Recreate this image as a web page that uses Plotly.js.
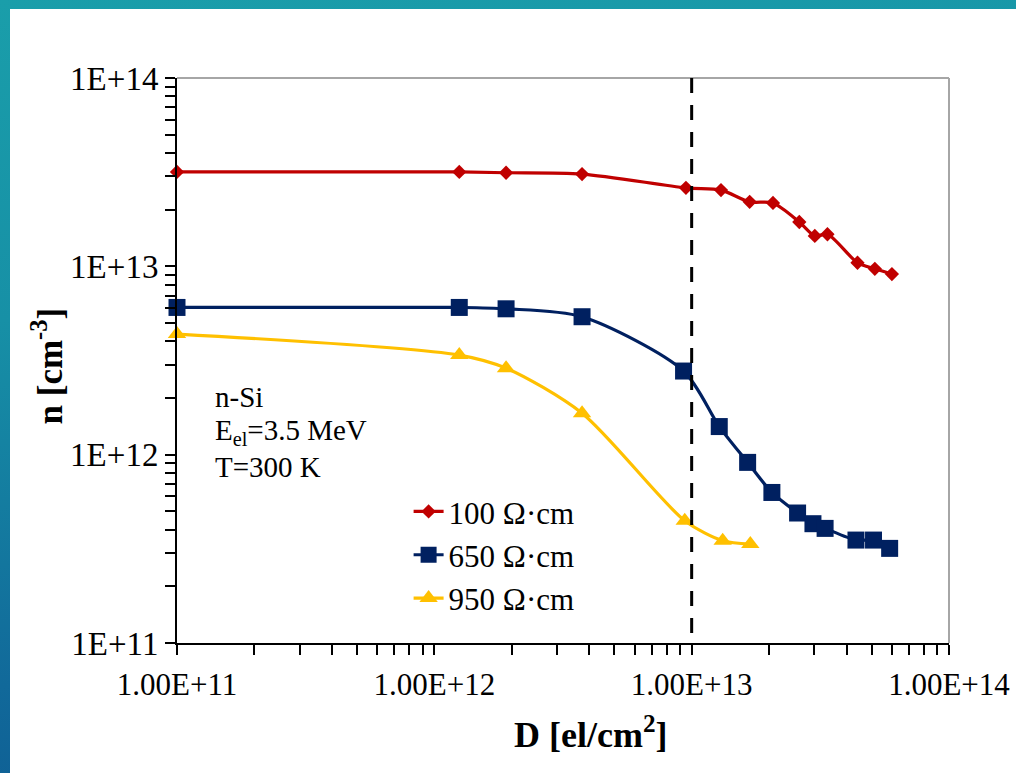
<!DOCTYPE html>
<html>
<head>
<meta charset="utf-8">
<script src="https://cdn.plot.ly/plotly-3.0.1.min.js"></script>
<style>
  html, body { margin: 0; padding: 0; }
  #frame { position: relative; width: 1016px; height: 773px; overflow: hidden;
    background: linear-gradient(172deg, #1a9eaa 0%, #1790a6 35%, #11699a 75%, #0d5790 100%); }
  #panel { position: absolute; left: 10px; top: 9px; width: 1006px; height: 764px; background: #ffffff; }
  #chart { position: absolute; left: 0; top: 0; width: 1016px; height: 773px; }
</style>
</head>
<body>
<div id="frame"><div id="panel"></div><div id="chart"></div></div>
<script>
// ---- data ----
const seriesNames = ["100 \u03A9\u00B7cm", "650 \u03A9\u00B7cm", "950 \u03A9\u00B7cm"];

const x100 = [1e11, 1.25e12, 1.9e12, 3.75e12, 9.5e12, 1.3e13, 1.68e13, 2.07e13, 2.62e13, 3.01e13, 3.37e13, 4.41e13, 5.15e13, 6.0e13];
const y100 = [3.17e13, 3.17e13, 3.14e13, 3.09e13, 2.61e13, 2.54e13, 2.2e13, 2.17e13, 1.72e13, 1.45e13, 1.48e13, 1.045e13, 9.7e12, 9.1e12];

const x650 = [1e11, 1.25e12, 1.9e12, 3.75e12, 9.3e12, 1.28e13, 1.65e13, 2.05e13, 2.58e13, 2.96e13, 3.3e13, 4.35e13, 5.09e13, 5.88e13];
const y650 = [6.05e12, 6.05e12, 5.95e12, 5.4e12, 2.78e12, 1.41e12, 9.1e11, 6.3e11, 4.9e11, 4.3e11, 4.06e11, 3.52e11, 3.52e11, 3.18e11];

const x950 = [1e11, 1.25e12, 1.9e12, 3.75e12, 9.4e12, 1.32e13, 1.69e13];
const y950 = [4.37e12, 3.38e12, 2.88e12, 1.66e12, 4.46e11, 3.49e11, 3.35e11];

const refLineX = [1e13, 1e13];
const refLineY = [1e14, 1e11];

const xTickVals = [1e11, 1e12, 1e13, 1e14];
const xTickText = ["1.00E+11", "1.00E+12", "1.00E+13", "1.00E+14"];
const yTickVals = [1e11, 1e12, 1e13, 1e14];
const yTickText = ["1E+11", "1E+12", "1E+13", "1E+14"];

const xTitle = "D [el/cm<sup>2</sup>]";
const yTitle = "n [cm<sup>-3</sup>]";
const infoLines = ["n-Si", "E<sub>el</sub>=3.5 MeV", "T=300 K"];

// minor tick positions (2..9 within each decade)
function minorTicks(lo, hi) {
  const out = [];
  for (let e = lo; e < hi; e++) for (let m = 2; m <= 9; m++) out.push(m * Math.pow(10, e));
  return out;
}

const FONT = "Liberation Serif, DejaVu Serif, serif";

const traces = [
  { x: x100, y: y100, name: seriesNames[0], type: "scatter", mode: "lines+markers",
    line: { color: "#C00000", width: 3.2, shape: "spline", smoothing: 0.8 },
    marker: { symbol: "diamond", size: 11, color: "#C00000" }, cliponaxis: false },
  { x: x650, y: y650, name: seriesNames[1], type: "scatter", mode: "lines+markers",
    line: { color: "#002060", width: 3.2, shape: "spline", smoothing: 0.8 },
    marker: { symbol: "square", size: 17, color: "#002060" }, cliponaxis: false },
  { x: x950, y: y950, name: seriesNames[2], type: "scatter", mode: "lines+markers",
    line: { color: "#FFC000", width: 3.2, shape: "spline", smoothing: 0.8 },
    marker: { symbol: "triangle-up", size: 16, color: "#FFC000" }, cliponaxis: false },
  { x: refLineX, y: refLineY, type: "scatter", mode: "lines", showlegend: false, hoverinfo: "skip",
    line: { color: "#000000", width: 3, dash: "15px,12px" } }
];

const axisCommon = {
  type: "log", range: [11, 14], tickmode: "array",
  ticks: "outside", ticklen: 10, tickwidth: 2, tickcolor: "#000",
  showline: true, linecolor: "#000", linewidth: 2,
  showgrid: false, zeroline: false
};

const layout = {
  width: 1016, height: 773,
  margin: { l: 177, r: 67, t: 78, b: 130, pad: 0 },
  paper_bgcolor: "rgba(0,0,0,0)", plot_bgcolor: "rgba(0,0,0,0)",
  showlegend: true,
  xaxis: Object.assign({}, axisCommon, {
    tickvals: xTickVals, ticktext: xTickText,
    tickfont: { family: FONT, size: 31, color: "#000" },
    ticklabelstandoff: 3,
    minor: { tickvals: minorTicks(11, 14), ticks: "outside", ticklen: 10, tickwidth: 2, tickcolor: "#000", showgrid: false }
  }),
  yaxis: Object.assign({}, axisCommon, {
    tickvals: yTickVals, ticktext: yTickText,
    tickfont: { family: FONT, size: 33, color: "#000" },
    minor: { tickvals: minorTicks(11, 14), ticks: "outside", ticklen: 10, tickwidth: 2, tickcolor: "#000", showgrid: false }
  }),
  legend: {
    x: 0.30, y: 0.28, xanchor: "left", yanchor: "top",
    bgcolor: "rgba(0,0,0,0)", font: { family: FONT, size: 31, color: "#000" },
    tracegroupgap: 0, itemwidth: 30
  },
  shapes: [
    { type: "line", xref: "paper", yref: "paper", x0: 0, x1: 1, y0: 1, y1: 1, line: { color: "#a6a6a6", width: 2 }, layer: "below" },
    { type: "line", xref: "paper", yref: "paper", x0: 1, x1: 1, y0: 0, y1: 1, line: { color: "#a6a6a6", width: 2 }, layer: "below" }
  ],
  annotations: infoLines.map((t, i) => ({
    text: t, xref: "paper", yref: "paper", x: 0.047, y: 0.435 - i * 0.062,
    xanchor: "left", yanchor: "middle", showarrow: false, align: "left",
    font: { family: FONT, size: 29, color: "#000" }
  })).concat([
    { text: "<b>" + xTitle + "</b>", xref: "paper", yref: "paper", x: 0.536, y: -0.159,
      xanchor: "center", yanchor: "middle", showarrow: false,
      font: { family: FONT, size: 36, color: "#000" } },
    { text: "<b>" + yTitle + "</b>", xref: "paper", yref: "paper", x: -0.168, y: 0.49, textangle: -90,
      xanchor: "center", yanchor: "middle", showarrow: false,
      font: { family: FONT, size: 35, color: "#000" } }
  ])
};

Plotly.newPlot("chart", traces, layout, { displayModeBar: false, staticPlot: true });
</script>
</body>
</html>
